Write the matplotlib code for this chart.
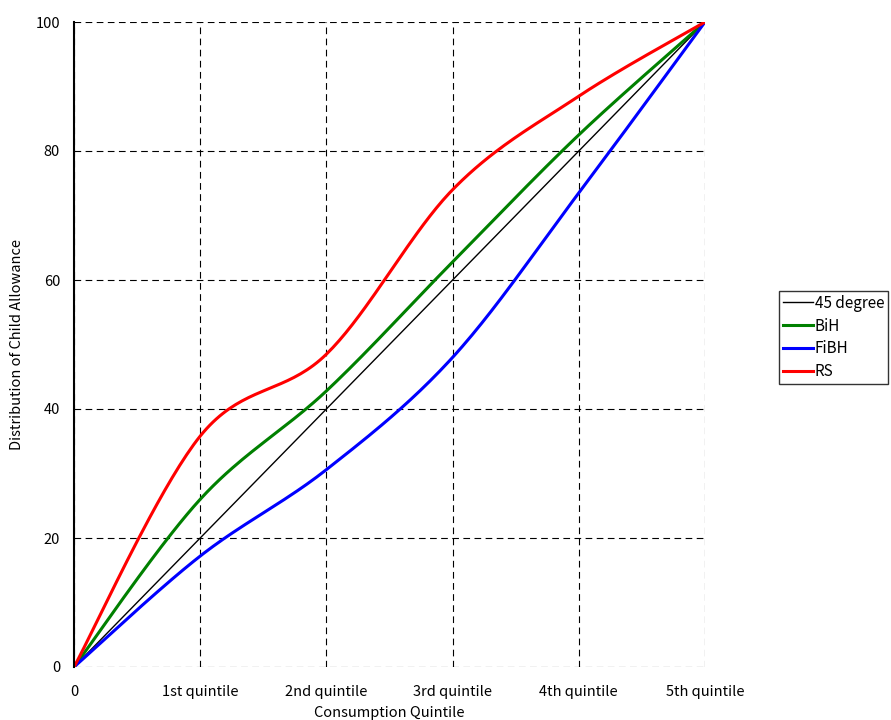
import numpy as np
import matplotlib
matplotlib.use("Agg")
from matplotlib import pyplot as plt

plt.rcParams['font.family'] = ['Noto Sans CJK JP', 'DejaVu Sans']

quintiles = ["0", "1st quintile", "2nd quintile", "3rd quintile", "4th quintile", "5th quintile"]
degree45 = [0, 20, 40, 60, 80, 100]
bih = [0, 26.0, 42.8, 62.8, 82.5, 100]
fibh = [0, 17.2, 30.6, 48.0, 73.5, 100]
rs = [0, 35.8, 48.5, 74.0, 88.5, 100]


def smooth(xs, ys, n=40):
    # Excel-style smoothed line: cubic bezier with catmull-rom control points
    xs = np.asarray(xs, float)
    ys = np.asarray(ys, float)
    pts = np.column_stack([xs, ys])
    out = []
    for i in range(len(pts) - 1):
        p0 = pts[i - 1] if i > 0 else pts[i]
        p1 = pts[i]
        p2 = pts[i + 1]
        p3 = pts[i + 2] if i + 2 < len(pts) else pts[i + 1]
        c1 = p1 + (p2 - p0) / 6
        c2 = p2 - (p3 - p1) / 6
        t = np.linspace(0, 1, n)[:, None]
        seg = (1 - t) ** 3 * p1 + 3 * (1 - t) ** 2 * t * c1 + 3 * (1 - t) * t ** 2 * c2 + t ** 3 * p2
        out.append(seg if i == 0 else seg[1:])
    out = np.vstack(out)
    return out[:, 0], out[:, 1]


x = np.arange(len(quintiles))

fig = plt.figure(figsize=(8.91, 7.2), dpi=100)
ax = fig.add_axes([74 / 891, 53 / 720, 631 / 891, 645 / 720])

ax.plot(x, degree45, color="black", lw=1, label="45 degree")
for ys, col, name in [(bih, "green", "BiH"), (fibh, "blue", "FiBH"), (rs, "red", "RS")]:
    sx, sy = smooth(x, ys)
    ax.plot(sx, sy, color=col, lw=2.2, label=name)

ax.set_xlim(0, 5)
ax.set_ylim(0, 100)
ax.set_xticks(x)
ax.set_xticklabels(quintiles)
ax.set_yticks([0, 20, 40, 60, 80, 100])
ax.tick_params(length=0, labelsize=10.5)
ax.tick_params(axis="x", pad=13)
ax.tick_params(axis="y", pad=10)
ax.grid(True, color="black", ls=(0, (6, 4)), lw=0.8)
for s in ["top", "right", "bottom"]:
    ax.spines[s].set_visible(False)
ax.spines["left"].set_linewidth(1.5)
ax.set_xlabel("Consumption Quintile", fontsize=10.5, labelpad=5)
ax.set_ylabel("Distribution of Child Allowance", fontsize=10.5, labelpad=8)

fig.legend(loc="upper left", bbox_to_anchor=(779 / 891, 1 - 291 / 720), fontsize=11,
           frameon=True, fancybox=False, edgecolor="black", handlelength=2.0,
           handletextpad=0.1, borderpad=0.25, labelspacing=0.38, borderaxespad=0)

fig.savefig("out.png", dpi=100)
